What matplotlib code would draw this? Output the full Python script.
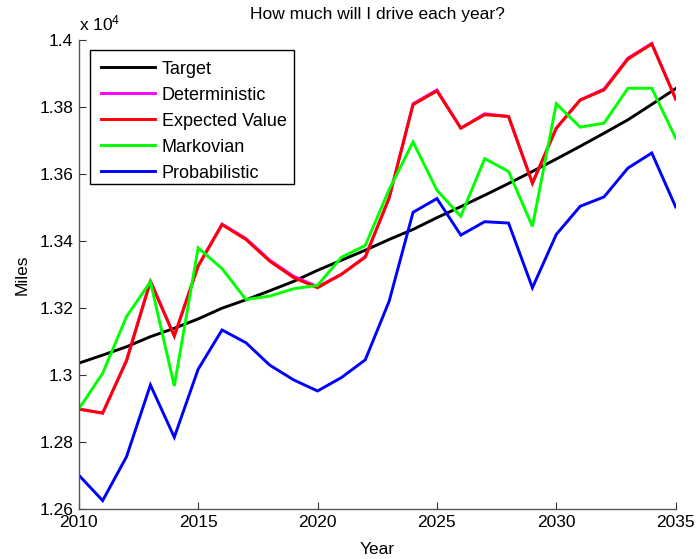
import matplotlib
matplotlib.use("Agg")
import matplotlib.pyplot as plt
from matplotlib.patches import Rectangle
from matplotlib.ticker import FuncFormatter, MultipleLocator

plt.rcParams["font.family"] = ["Liberation Sans", "DejaVu Sans"]
plt.rcParams["mathtext.fontset"] = "custom"
plt.rcParams["mathtext.rm"] = "Liberation Sans"
plt.rcParams["mathtext.it"] = "Liberation Sans"

years = list(range(2010, 2036))

target = [13036, 13060, 13085, 13115, 13140, 13168, 13200, 13225, 13252, 13280,
          13313, 13343, 13373, 13405, 13435, 13470, 13503, 13537, 13572, 13608,
          13645, 13683, 13722, 13762, 13808, 13855]

deterministic = [12899, 12887, 13045, 13282, 13117, 13327, 13451, 13408, 13343, 13295,
                 13264, 13301, 13354, 13529, 13810, 13851, 13737, 13780, 13772, 13573,
                 13737, 13821, 13854, 13946, 13990, 13824]

expected_value = [12899, 12887, 13043, 13279, 13117, 13325, 13449, 13405, 13340, 13291,
                  13261, 13301, 13352, 13529, 13807, 13848, 13737, 13777, 13772, 13573,
                  13737, 13821, 13851, 13943, 13988, 13824]

markovian = [12899, 13006, 13175, 13279, 12968, 13380, 13318, 13226, 13236, 13258,
             13268, 13352, 13387, 13554, 13696, 13552, 13474, 13646, 13608, 13444,
             13810, 13740, 13752, 13856, 13856, 13707]

probabilistic = [12702, 12626, 12757, 12971, 12815, 13018, 13135, 13097, 13030, 12986,
                 12953, 12993, 13046, 13221, 13486, 13527, 13418, 13458, 13454, 13261,
                 13420, 13504, 13532, 13618, 13663, 13502]

series = [
    ("Target", target, "#000000"),
    ("Deterministic", deterministic, "#ff00ff"),
    ("Expected Value", expected_value, "#ff0000"),
    ("Markovian", markovian, "#00ff00"),
    ("Probabilistic", probabilistic, "#0000ff"),
]

W, H = 696, 559
fig = plt.figure(figsize=(W / 100, H / 100), dpi=100)
ax = fig.add_axes([0.1132, 0.0889, 0.8576, 0.8395])

for name, vals, color in series:
    ax.plot(years, vals, color=color, lw=2.1, label=name, solid_joinstyle="miter")

ax.set_xlim(2010, 2035)
ax.set_ylim(12600, 14000)
ax.xaxis.set_major_locator(MultipleLocator(5))
ax.yaxis.set_major_locator(MultipleLocator(200))
ax.yaxis.set_major_formatter(FuncFormatter(lambda v, p: "%g" % round(v / 1e4, 4)))

for side in ("top", "right"):
    ax.spines[side].set_visible(False)
for side in ("left", "bottom"):
    ax.spines[side].set_color("#555555")
    ax.spines[side].set_linewidth(1.0)

ax.tick_params(direction="in", length=5, width=0.8, color="#333333",
               labelsize=12.5, labelcolor="#000000", pad=4)

ax.set_title("How much will I drive each year?", fontsize=12.5, pad=15)
ax.set_xlabel("Year", fontsize=12.5, labelpad=8.5)
ax.set_ylabel("Miles", fontsize=12.5, labelpad=7)

ax.text(0.0, 1.015, r"x 10$^{4}$", transform=ax.transAxes, fontsize=12.5,
        ha="left", va="bottom")

# legend frame (box in figure pixels) and its entries
box_l, box_t, box_r, box_b = 89.5, 50, 294, 184
frame = Rectangle((box_l / W, 1 - box_b / H), (box_r - box_l) / W, (box_b - box_t) / H,
                  transform=fig.transFigure, facecolor="white", edgecolor="black",
                  lw=1.0, zorder=4.5, clip_on=False)
ax.add_patch(frame)

leg = ax.legend(loc="upper left", bbox_to_anchor=(100.7 / W, 1 - 60.5 / H),
                bbox_transform=fig.transFigure, borderaxespad=0, borderpad=0,
                frameon=False, fontsize=13, handlelength=3.0, handletextpad=0.37,
                labelspacing=0.5)
leg.set_zorder(5)

fig.savefig("out.png", dpi=100)
